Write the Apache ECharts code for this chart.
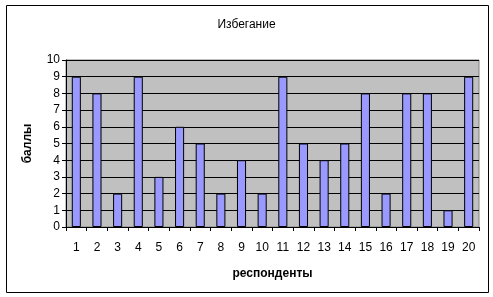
<!DOCTYPE html>
<html><head><meta charset="utf-8">
<script src="https://cdn.jsdelivr.net/npm/echarts@6/dist/echarts.min.js"></script>
<style>html,body{margin:0;padding:0;background:#fff}#c{width:493px;height:297px}</style>
</head><body><div id="c"></div>
<script>
const categories = ['1','2','3','4','5','6','7','8','9','10','11','12','13','14','15','16','17','18','19','20'];
const values = [9,8,2,9,3,6,5,2,4,2,9,5,4,5,8,2,8,8,1,9];
const yTicks = {min:0, max:10, interval:1};
const chart = echarts.init(document.getElementById('c'));
const font = 'Liberation Sans, Arial, sans-serif';
chart.setOption({
  animation:false,
  graphic:[{type:'rect',shape:{x:6.5,y:5.5,width:482,height:287},style:{fill:'none',stroke:'#000',lineWidth:1},z:-1}],
  title:{text:'Избегание',left:'center',top:14,textStyle:{fontFamily:font,fontSize:12,fontWeight:'normal',color:'#000'}},
  grid:{left:66,top:60,right:14,bottom:70,show:true,backgroundColor:'#c0c0c0',borderColor:'#808080',borderWidth:1},
  xAxis:{type:'category',data:categories,name:'респонденты',nameLocation:'middle',nameGap:41,
    nameTextStyle:{fontFamily:font,fontSize:12,fontWeight:'bold',color:'#000'},
    axisLine:{lineStyle:{color:'#000'}},axisTick:{show:true,length:4,lineStyle:{color:'#000'}},
    axisLabel:{fontFamily:font,fontSize:12,color:'#000',margin:15,interval:0}},
  yAxis:{type:'value',min:yTicks.min,max:yTicks.max,interval:yTicks.interval,name:'баллы',nameLocation:'middle',nameGap:32,
    nameTextStyle:{fontFamily:font,fontSize:12,fontWeight:'bold',color:'#000'},
    axisLine:{show:true,lineStyle:{color:'#000'}},axisTick:{show:true,length:4,lineStyle:{color:'#000'}},
    axisLabel:{fontFamily:font,fontSize:12,color:'#000',margin:6},
    splitLine:{lineStyle:{color:'#000',width:1}}},
  series:[{type:'bar',data:values,barWidth:'44%',itemStyle:{color:'#9999ff',borderColor:'#000',borderWidth:1}}]
});
</script></body></html>
